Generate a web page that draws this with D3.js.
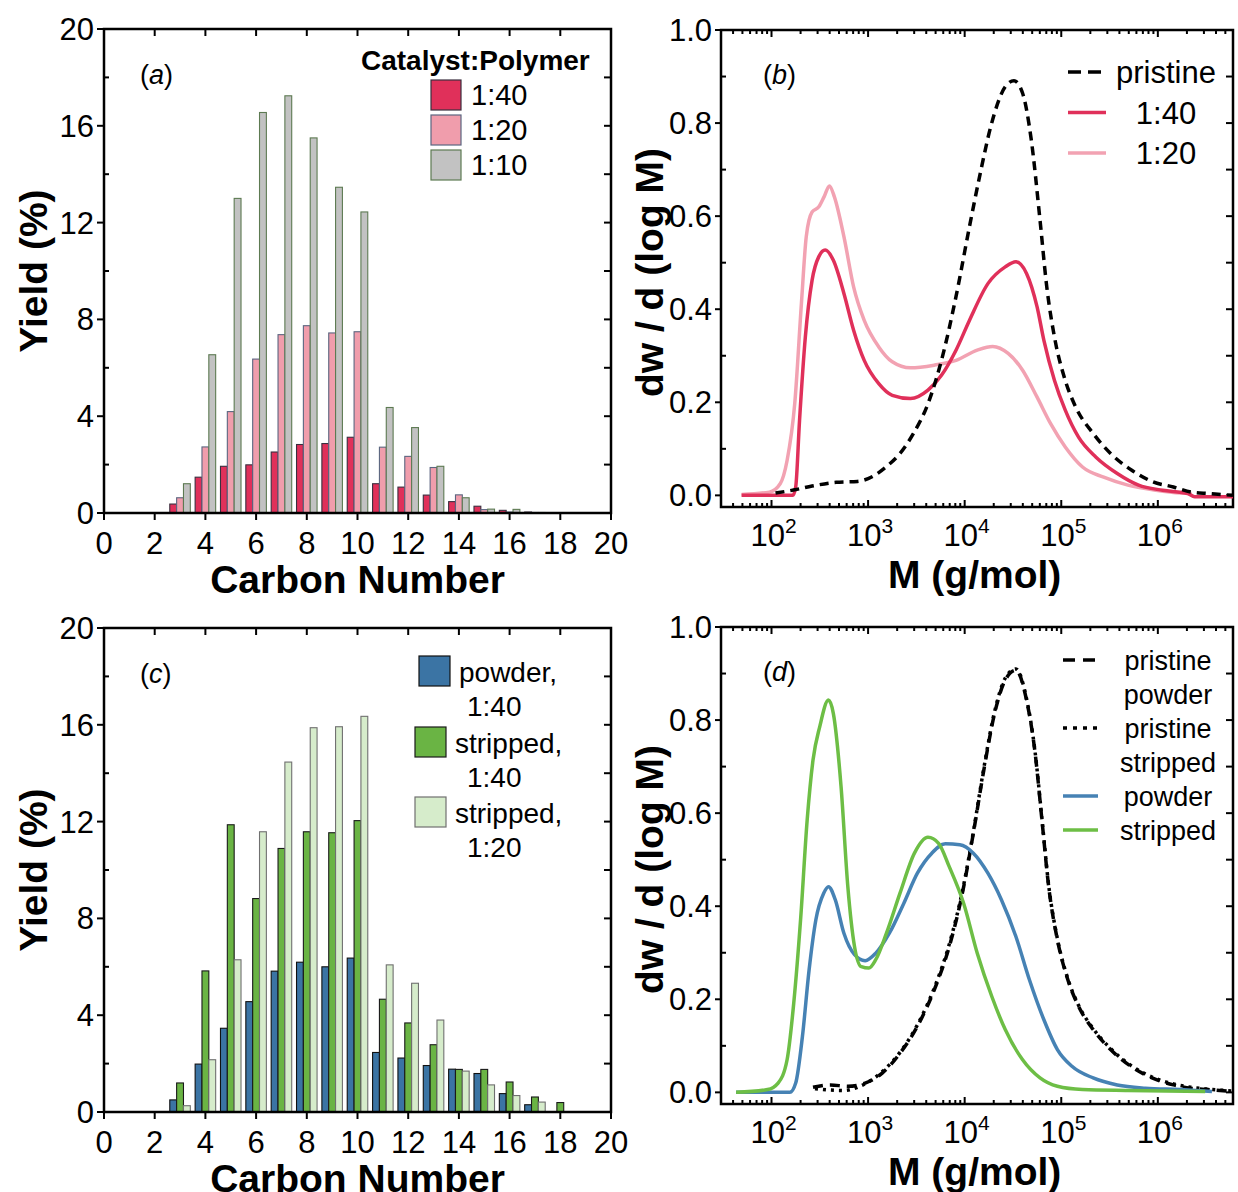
<!DOCTYPE html>
<html>
<head>
<meta charset="utf-8">
<script src="https://cdn.jsdelivr.net/npm/d3@7"></script>
<style>
  body { margin: 0; background: #fff; }
  svg { display: block; }
  text { font-family: "Liberation Sans", Arial, sans-serif; fill: #000; }
</style>
</head>
<body>
<svg id="fig" width="1238" height="1192"></svg>
<script>
// ---------- data ----------
const carbonNumbers = [3, 4, 5, 6, 7, 8, 9, 10, 11, 12, 13, 14, 15, 16, 17, 18];

// (a) liquid yield vs carbon number for three catalyst:polymer ratios
const yield140 = [0.37, 1.48, 1.93, 1.99, 2.52, 2.83, 2.87, 3.13, 1.21, 1.07, 0.74, 0.47, 0.28, 0.11, 0.04, 0.01];
const yield120 = [0.63, 2.73, 4.19, 6.36, 7.37, 7.74, 7.44, 7.49, 2.72, 2.34, 1.88, 0.75, 0.14, 0.04, 0.02, 0];
const yield110 = [1.21, 6.54, 13.0, 16.55, 17.24, 15.5, 13.46, 12.44, 4.36, 3.53, 1.93, 0.63, 0.16, 0.15, 0.02, 0];

// (c) powder vs stripped polymer
const yieldPowder140   = [0.50, 1.98, 3.46, 4.56, 5.82, 6.19, 6.00, 6.36, 2.46, 2.23, 1.92, 1.77, 1.59, 0.76, 0.30, 0];
const yieldStripped140 = [1.20, 5.83, 11.87, 8.82, 10.89, 11.58, 11.54, 12.04, 4.66, 3.68, 2.78, 1.76, 1.76, 1.24, 0.62, 0.39];
const yieldStripped120 = [0.26, 2.16, 6.29, 11.58, 14.46, 15.88, 15.92, 16.35, 6.08, 5.32, 3.80, 1.69, 1.12, 0.68, 0.41, 0];

const barTicksX = [0, 2, 4, 6, 8, 10, 12, 14, 16, 18, 20];
const barTicksY = [0, 4, 8, 12, 16, 20];

// (b) molecular weight distributions, [M (g/mol), dw/dlogM]
const mwdPristineB = [[110,0.005],[174,0.012],[263,0.02],[468,0.028],[776,0.03],[1100,0.04],[1510,0.06],[2140,0.09],[2950,0.133],[4170,0.197],[5750,0.29],[8130,0.427],[11200,0.577],[14500,0.692],[18600,0.792],[26300,0.878],[32400,0.891],[39800,0.864],[49000,0.763],[60300,0.591],[70800,0.448],[85100,0.34],[1.10e5,0.247],[1.41e5,0.19],[2.14e5,0.133],[3.24e5,0.09],[5.37e5,0.054],[8.91e5,0.029],[1.45e6,0.018],[2.24e6,0.007],[3.39e6,0.004],[6.0e6,0.0]];
const mwd140 = [[49,0],[166,0],[178,0.018],[195,0.16],[224,0.34],[263,0.462],[309,0.513],[360,0.527],[437,0.505],[562,0.434],[708,0.355],[912,0.29],[1290,0.24],[1780,0.215],[2750,0.208],[4170,0.226],[5750,0.258],[8130,0.312],[11200,0.376],[17400,0.455],[26300,0.491],[33900,0.502],[43700,0.477],[56200,0.405],[66100,0.333],[85100,0.247],[1.10e5,0.183],[1.51e5,0.125],[2.29e5,0.082],[3.80e5,0.047],[6.31e5,0.022],[1.12e6,0.011],[2.04e6,0.004],[2.4e6,-0.003],[6.0e6,-0.003]];
const mwd120 = [[49,0.002],[95,0.007],[123,0.025],[145,0.075],[174,0.197],[204,0.412],[229,0.556],[263,0.609],[309,0.62],[351,0.642],[398,0.665],[447,0.642],[562,0.556],[708,0.448],[912,0.376],[1290,0.319],[1780,0.287],[2750,0.274],[4900,0.28],[8130,0.29],[13500,0.312],[19500,0.32],[28200,0.305],[39800,0.269],[56200,0.211],[77600,0.154],[1.10e5,0.104],[1.66e5,0.061],[2.75e5,0.039],[4.90e5,0.022],[9.55e5,0.011],[1.74e6,0.005],[2.24e6,0.004]];

// (d) molecular weight distributions, powder vs stripped
const mwdPristinePowder = [[269,0.011],[407,0.016],[617,0.013],[933,0.02],[1410,0.042],[2140,0.084],[3240,0.142],[5010,0.228],[6920,0.313],[9770,0.442],[12300,0.557],[15800,0.693],[20400,0.814],[26300,0.886],[33900,0.907],[43700,0.843],[53700,0.728],[63100,0.585],[74100,0.442],[91200,0.328],[1.17e5,0.242],[1.51e5,0.185],[2.14e5,0.135],[3.24e5,0.092],[5.25e5,0.056],[8.71e5,0.031],[1.45e6,0.016],[2.19e6,0.009],[3.31e6,0.006],[5.89e6,0.002]];
const mwdPristineStripped = [[282,0.008],[400,0.005],[560,0.004],[800,0.012],[1000,0.022],[1410,0.045],[2140,0.086],[3240,0.145],[5010,0.232],[6920,0.318],[9770,0.446],[12300,0.56],[15800,0.697],[20400,0.818],[26300,0.89],[33900,0.91],[43700,0.846],[53700,0.73],[63100,0.588],[74100,0.445],[91200,0.33],[1.17e5,0.244],[1.51e5,0.187],[2.14e5,0.137],[3.24e5,0.094],[5.25e5,0.058],[8.71e5,0.033],[1.45e6,0.018],[2.19e6,0.011],[3.31e6,0.007],[5.89e6,0.003]];
const mwdPowder = [[43,0],[155,0],[178,0.02],[209,0.12],[245,0.263],[288,0.371],[347,0.428],[389,0.442],[457,0.414],[562,0.342],[724,0.296],[933,0.283],[1200,0.299],[1660,0.342],[2340,0.406],[3240,0.471],[4570,0.514],[6310,0.534],[8910,0.532],[12300,0.514],[17400,0.471],[24000,0.414],[33900,0.335],[46800,0.242],[66100,0.156],[91200,0.092],[1.29e5,0.056],[2.14e5,0.031],[3.80e5,0.016],[7.41e5,0.009],[1.70e6,0.006],[3.63e6,0.002]];
const mwdStripped = [[43,0],[91,0.006],[117,0.02],[145,0.07],[170,0.192],[200,0.371],[234,0.585],[269,0.714],[316,0.786],[389,0.843],[437,0.814],[525,0.657],[617,0.442],[724,0.313],[851,0.27],[1020,0.267],[1200,0.285],[1550,0.342],[2140,0.428],[3020,0.514],[4170,0.548],[5370,0.535],[6920,0.485],[9770,0.406],[13500,0.299],[19100,0.206],[26300,0.135],[39800,0.07],[60300,0.031],[91200,0.013],[1.66e5,0.006],[4.90e5,0.004],[3.09e6,0.002]];

const mwdTicksY = [0, 0.2, 0.4, 0.6, 0.8, 1.0];
const mwdDecades = [2, 3, 4, 5, 6];

// ---------- drawing ----------
const svg = d3.select("#fig");
const TICK_FONT = 31;
const TITLE_FONT = 39;

function tick(g, x1, y1, x2, y2) {
  g.append("line").attr("x1", x1).attr("y1", y1).attr("x2", x2).attr("y2", y2)
    .attr("stroke", "#000").attr("stroke-width", 2);
}

function panelLabel(x, y, letter) {
  const t = svg.append("text").attr("x", x).attr("y", y).attr("font-size", 27);
  t.append("tspan").text("(");
  t.append("tspan").attr("font-style", "italic").text(letter);
  t.append("tspan").text(")");
}

function barPanel(box, series, colors, strokes, letter) {
  const x = d3.scaleLinear().domain([0, 20]).range([box.left, box.right]);
  const y = d3.scaleLinear().domain([0, 20]).range([box.bottom, box.top]);
  const g = svg.append("g");
  const w = 0.27;
  series.forEach((vals, si) => {
    g.selectAll(null).data(carbonNumbers.map((c, i) => ({ c, v: vals[i] })).filter(d => d.v > 0))
      .join("rect")
      .attr("x", d => x(d.c - 1.5 * w + si * w))
      .attr("width", x(w) - x(0))
      .attr("y", d => y(d.v))
      .attr("height", d => y(0) - y(d.v))
      .attr("fill", colors[si])
      .attr("stroke", strokes[si])
      .attr("stroke-width", 1.1);
  });
  // frame
  const ax = svg.append("g");
  ax.append("rect").attr("x", box.left).attr("y", box.top)
    .attr("width", box.right - box.left).attr("height", box.bottom - box.top)
    .attr("fill", "none").attr("stroke", "#000").attr("stroke-width", 2.5);
  barTicksX.forEach(v => {
    tick(ax, x(v), box.bottom, x(v), box.bottom + 7);
    if (v > 0 && v < 20) {
      tick(ax, x(v), box.top, x(v), box.top + 7);
    }
    ax.append("text").attr("x", x(v)).attr("y", box.bottom + 41)
      .attr("text-anchor", "middle").attr("font-size", TICK_FONT).text(v);
  });
  d3.range(0, 21, 2).forEach(v => {
    if (v % 4 === 0) tick(ax, box.left, y(v), box.left - 7, y(v));
    else tick(ax, box.left, y(v), box.left + 5, y(v));
    if (v > 0 && v < 20) tick(ax, box.right, y(v), box.right - 7, y(v));
  });
  barTicksY.forEach(v => {
    ax.append("text").attr("x", box.left - 10).attr("y", y(v) + 11)
      .attr("text-anchor", "end").attr("font-size", TICK_FONT).text(v);
  });
  ax.append("text").attr("x", (box.left + box.right) / 2).attr("y", box.bottom + 80)
    .attr("text-anchor", "middle").attr("font-size", TITLE_FONT).attr("font-weight", "bold")
    .text("Carbon Number");
  ax.append("text").attr("transform", `translate(47,${(box.top + box.bottom) / 2}) rotate(-90)`)
    .attr("text-anchor", "middle").attr("font-size", TITLE_FONT).attr("font-weight", "bold")
    .text("Yield (%)");
  panelLabel(box.left + 36, box.top + 55, letter);
}

function mwdPanel(box, letter) {
  const x = d3.scaleLog().domain([30, 6e6]).range([box.left, box.right]);
  const y = d3.scaleLinear().domain([-0.025, 1.0]).range([box.bottom, box.top]);
  const ax = svg.append("g");
  ax.append("rect").attr("x", box.left).attr("y", box.top)
    .attr("width", box.right - box.left).attr("height", box.bottom - box.top)
    .attr("fill", "none").attr("stroke", "#000").attr("stroke-width", 2.5);
  // log ticks
  for (let e = 1; e <= 6; e++) {
    for (let m = 1; m <= 9; m++) {
      const v = m * Math.pow(10, e);
      if (v < 30 || v > 6e6) continue;
      const len = m === 1 ? 7 : 4;
      tick(ax, x(v), box.bottom, x(v), box.bottom - len);
      tick(ax, x(v), box.top, x(v), box.top + len);
    }
  }
  mwdDecades.forEach(e => {
    const t = ax.append("text").attr("x", x(Math.pow(10, e)) + 2).attr("y", box.bottom + 39)
      .attr("text-anchor", "middle").attr("font-size", TICK_FONT);
    t.append("tspan").text("10");
    t.append("tspan").attr("font-size", 21).attr("dy", -13).text(e);
  });
  d3.range(0, 11).forEach(i => {
    const v = i / 10;
    if (i % 2 === 0) tick(ax, box.left, y(v), box.left - 6, y(v));
    else tick(ax, box.left, y(v), box.left + 5, y(v));
    if (i < 10) tick(ax, box.right, y(v), box.right - 7, y(v));
  });
  mwdTicksY.forEach(v => {
    ax.append("text").attr("x", box.left - 9).attr("y", y(v) + 11)
      .attr("text-anchor", "end").attr("font-size", TICK_FONT).text(v.toFixed(1));
  });
  ax.append("text").attr("x", x(1e4) + 10).attr("y", box.bottom + 81)
    .attr("text-anchor", "middle").attr("font-size", TITLE_FONT).attr("font-weight", "bold")
    .text("M (g/mol)");
  ax.append("text").attr("transform", `translate(663,${(box.top + box.bottom) / 2 + 4}) rotate(-90)`)
    .attr("text-anchor", "middle").attr("font-size", TITLE_FONT).attr("font-weight", "bold")
    .text("dw / d (log M)");
  panelLabel(box.left + 42, box.top + 54, letter);
  return { x, y };
}

function curve(sc, box, data, color, dash, width) {
  const clipId = "clip" + Math.round(box.top);
  if (svg.select("#" + clipId).empty()) {
    svg.append("clipPath").attr("id", clipId).append("rect")
      .attr("x", box.left).attr("y", box.top)
      .attr("width", box.right - box.left).attr("height", box.bottom - box.top);
  }
  const line = d3.line().x(d => sc.x(d[0])).y(d => sc.y(d[1])).curve(d3.curveMonotoneX);
  svg.append("path").attr("d", line(data)).attr("fill", "none")
    .attr("stroke", color).attr("stroke-width", width || 3.5)
    .attr("stroke-dasharray", dash || null)
    .attr("clip-path", `url(#${clipId})`);
}

// panel (a)
const boxA = { left: 104, right: 611, top: 29, bottom: 513 };
barPanel(boxA, [yield140, yield120, yield110],
  ["#E0305A", "#F09DAC", "#C2C2C2"], ["#3a2f3f", "#5b6680", "#5d7a52"], "a");
// legend (a)
svg.append("text").attr("x", 361).attr("y", 70).attr("font-size", 28).attr("font-weight", "bold")
  .text("Catalyst:Polymer");
[["1:40", "#E0305A", "#3a2f3f"], ["1:20", "#F09DAC", "#5b6680"], ["1:10", "#C2C2C2", "#5d7a52"]]
  .forEach(([lab, fill, stroke], i) => {
    svg.append("rect").attr("x", 431).attr("y", 80 + i * 35).attr("width", 30).attr("height", 30)
      .attr("fill", fill).attr("stroke", stroke).attr("stroke-width", 1.2);
    svg.append("text").attr("x", 471).attr("y", 105 + i * 35).attr("font-size", 29).text(lab);
  });

// panel (c)
const boxC = { left: 104, right: 611, top: 628, bottom: 1112 };
barPanel(boxC, [yieldPowder140, yieldStripped140, yieldStripped120],
  ["#3B74A4", "#6AB444", "#D6ECCB"], ["#111", "#1a1a1a", "#707070"], "c");
// legend (c)
[
  { x: 419, y: 656, fill: "#3B74A4", stroke: "#111", l1: "powder,", l1x: 459, l2: "1:40" },
  { x: 415, y: 727, fill: "#6AB444", stroke: "#1a1a1a", l1: "stripped,", l1x: 455, l2: "1:40" },
  { x: 415, y: 797, fill: "#D6ECCB", stroke: "#707070", l1: "stripped,", l1x: 455, l2: "1:20" }
].forEach(d => {
  svg.append("rect").attr("x", d.x).attr("y", d.y).attr("width", 31).attr("height", 30)
    .attr("fill", d.fill).attr("stroke", d.stroke).attr("stroke-width", 1.2);
  svg.append("text").attr("x", d.l1x).attr("y", d.y + 26).attr("font-size", 28).text(d.l1);
  svg.append("text").attr("x", 467).attr("y", d.y + 60).attr("font-size", 28).text(d.l2);
});

// panel (b)
const boxB = { left: 721, right: 1233, top: 30, bottom: 507 };
const scB = mwdPanel(boxB, "b");
curve(scB, boxB, mwd120, "#F2A2B2");
curve(scB, boxB, mwd140, "#E0305A");
curve(scB, boxB, mwdPristineB, "#000", "9,6");
// legend (b)
[["pristine", "#000", "13,7"], ["1:40", "#E0305A", null], ["1:20", "#F2A2B2", null]].forEach(([lab, col, dash], i) => {
  const yy = 72 + i * 40.5;
  svg.append("line").attr("x1", 1068).attr("x2", i === 0 ? 1101 : 1106).attr("y1", yy).attr("y2", yy)
    .attr("stroke", col).attr("stroke-width", 3.5).attr("stroke-dasharray", dash);
  svg.append("text").attr("x", 1166).attr("y", yy + 11).attr("text-anchor", "middle")
    .attr("font-size", 31).text(lab);
});

// panel (d)
const boxD = { left: 721, right: 1233, top: 627, bottom: 1104 };
const scD = mwdPanel(boxD, "d");
curve(scD, boxD, mwdPristinePowder, "#000", "10,7");
curve(scD, boxD, mwdPristineStripped, "#000", "3,5");
curve(scD, boxD, mwdPowder, "#4682B4");
curve(scD, boxD, mwdStripped, "#6DBE45");
// legend (d)
[
  { y: 660, dash: "12,8", col: "#000", x2: 1098 },
  { y: 728, dash: "4,6", col: "#000", x2: 1097 },
  { y: 796, dash: null, col: "#4682B4", x2: 1098 },
  { y: 830, dash: null, col: "#6DBE45", x2: 1098 }
].forEach(d => {
  svg.append("line").attr("x1", 1063).attr("x2", d.x2).attr("y1", d.y).attr("y2", d.y)
    .attr("stroke", d.col).attr("stroke-width", 3.5).attr("stroke-dasharray", d.dash);
});
[["pristine", 660], ["powder", 694], ["pristine", 728], ["stripped", 762], ["powder", 796], ["stripped", 830]]
  .forEach(([lab, yy]) => {
    svg.append("text").attr("x", 1168).attr("y", yy + 10).attr("text-anchor", "middle")
      .attr("font-size", 27).text(lab);
  });
</script>
</body>
</html>
